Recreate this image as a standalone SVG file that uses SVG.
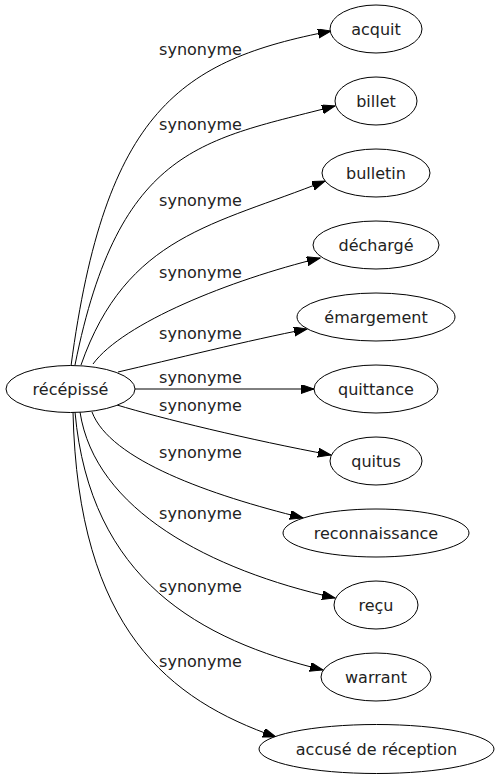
<svg xmlns="http://www.w3.org/2000/svg" width="499" height="779" viewBox="0 0 499 779">
<style>
  .node ellipse { fill: #ffffff; stroke: #000000; stroke-width: 1; }
  .node text { font-family: "DejaVu Sans", "Liberation Sans", sans-serif; font-size: 16px; fill: #222222; text-anchor: middle; }
  .edge { fill: none; stroke: #000000; stroke-width: 1; marker-end: url(#arrow); }
  .lbl { font-family: "DejaVu Sans", "Liberation Sans", sans-serif; font-size: 16px; fill: #222222; text-anchor: middle; }
</style>
<defs>
  <marker id="arrow" markerUnits="userSpaceOnUse" markerWidth="14" markerHeight="10" refX="13" refY="4.5" orient="auto">
    <path d="M0,0 L13,4.5 L0,9 Z" fill="#000000" stroke="#000000" stroke-width="1"/>
  </marker>
</defs>
<rect width="499" height="779" fill="#ffffff"/>
<g id="connectors">
  <path class="edge" d="M71,366 C105,110 181,60 331,31"/>
  <path class="edge" d="M75,365 C119,145 205,140 335,106"/>
  <path class="edge" d="M81,365 C126.5,235 215,225 325,181"/>
  <path class="edge" d="M93,364 C123,323 230,280 320,258"/>
  <path class="edge" d="M118,372 C170,360 250,340 307,329"/>
  <path class="edge" d="M135,389 L314,389"/>
  <path class="edge" d="M117,405 C160,418 250,440 331,455"/>
  <path class="edge" d="M92,412 C110,460 210,495 303,518"/>
  <path class="edge" d="M80,412 C95,510 210,570 335,598"/>
  <path class="edge" d="M75,412 C90,580 200,640 323,670"/>
  <path class="edge" d="M73,412 C78,630 170,700 276,737"/>
  <text class="lbl" x="200.5" y="55">synonyme</text>
  <text class="lbl" x="200.5" y="130">synonyme</text>
  <text class="lbl" x="200.5" y="205.5">synonyme</text>
  <text class="lbl" x="200.5" y="278">synonyme</text>
  <text class="lbl" x="200.5" y="339">synonyme</text>
  <text class="lbl" x="200.5" y="383">synonyme</text>
  <text class="lbl" x="200.5" y="411">synonyme</text>
  <text class="lbl" x="200.5" y="457.5">synonyme</text>
  <text class="lbl" x="200.5" y="518.5">synonyme</text>
  <text class="lbl" x="200.5" y="591.5">synonyme</text>
  <text class="lbl" x="200.5" y="666.5">synonyme</text>
</g>
<g id="recepisse" class="node"><ellipse cx="70.5" cy="389" rx="64.5" ry="23.5"/><text x="70.5" y="394.5">récépissé</text></g>
<g id="acquit" class="node"><ellipse cx="376" cy="29" rx="46" ry="24"/><text x="376" y="34.5">acquit</text></g>
<g id="billet" class="node"><ellipse cx="376" cy="101" rx="41" ry="24"/><text x="376" y="106.5">billet</text></g>
<g id="bulletin" class="node"><ellipse cx="376" cy="173" rx="54" ry="24"/><text x="376" y="178.5">bulletin</text></g>
<g id="decharge" class="node"><ellipse cx="376" cy="245" rx="63" ry="24"/><text x="376" y="250.5">déchargé</text></g>
<g id="emargement" class="node"><ellipse cx="376" cy="317" rx="79" ry="24"/><text x="376" y="322.5">émargement</text></g>
<g id="quittance" class="node"><ellipse cx="376" cy="389" rx="62" ry="24"/><text x="376" y="394.5">quittance</text></g>
<g id="quitus" class="node"><ellipse cx="376" cy="461" rx="46" ry="24"/><text x="376" y="466.5">quitus</text></g>
<g id="reconnaissance" class="node"><ellipse cx="376" cy="533" rx="93" ry="24"/><text x="376" y="538.5">reconnaissance</text></g>
<g id="recu" class="node"><ellipse cx="376" cy="605" rx="42" ry="24"/><text x="376" y="610.5">reçu</text></g>
<g id="warrant" class="node"><ellipse cx="376" cy="677" rx="55" ry="24"/><text x="376" y="682.5">warrant</text></g>
<g id="accuse" class="node"><ellipse cx="376.5" cy="749" rx="117.5" ry="24.5"/><text x="376.5" y="754.5">accusé de réception</text></g>
</svg>
